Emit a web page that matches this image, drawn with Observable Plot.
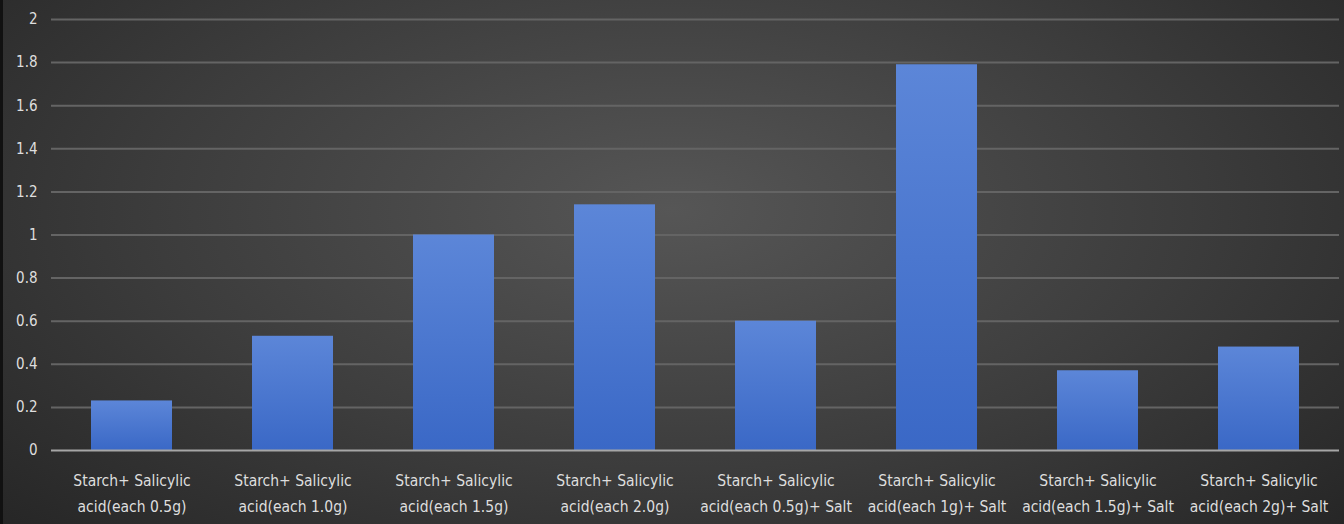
<!DOCTYPE html>
<html>
<head>
<meta charset="utf-8">
<script src="https://cdn.jsdelivr.net/npm/d3@7"></script>
<script src="https://cdn.jsdelivr.net/npm/@observablehq/plot@0.6"></script>
<style>
  html, body { margin: 0; padding: 0; width: 1344px; height: 524px; overflow: hidden; }
  body { background: radial-gradient(ellipse 70% 90% at 50% 40%, #565656 0%, #3c3c3c 55%, #252525 100%); }
  #chart { position: relative; width: 1344px; height: 524px; border-left: 3px solid #111; box-sizing: border-box; }
  svg { display: block; }
</style>
</head>
<body>
<div id="chart"></div>
<script>
const categories = [
  "Starch+ Salicylic\nacid(each 0.5g)",
  "Starch+ Salicylic\nacid(each 1.0g)",
  "Starch+ Salicylic\nacid(each 1.5g)",
  "Starch+ Salicylic\nacid(each 2.0g)",
  "Starch+ Salicylic\nacid(each 0.5g)+ Salt",
  "Starch+ Salicylic\nacid(each 1g)+ Salt",
  "Starch+ Salicylic\nacid(each 1.5g)+ Salt",
  "Starch+ Salicylic\nacid(each 2g)+ Salt"
];
const values = [0.23, 0.53, 1.0, 1.14, 0.6, 1.79, 0.37, 0.48];
const yTicks = [0, 0.2, 0.4, 0.6, 0.8, 1, 1.2, 1.4, 1.6, 1.8, 2];

const data = categories.map((c, i) => ({category: c, value: values[i]}));

const plot = Plot.plot({
  width: 1341,
  height: 524,
  marginTop: 19,
  marginBottom: 74,
  marginLeft: 48,
  marginRight: 5,
  style: {background: "transparent", fontFamily: "'DejaVu Sans Condensed', 'Liberation Sans Narrow', sans-serif", fontSize: "15px", color: "#dedede"},
  x: {domain: categories, paddingInner: 0.5, paddingOuter: 0.25, label: null},
  y: {domain: [0, 2], label: null},
  marks: [
    Plot.gridY(yTicks.filter(d => d > 0), {stroke: "#646464", strokeOpacity: 1, strokeWidth: 2}),
    Plot.barY(data, {x: "category", y: "value", fill: "url(#barGrad)"}),
    Plot.ruleY([0], {stroke: "#a6a6a6", strokeWidth: 2}),
    Plot.axisY({ticks: yTicks, tickSize: 0, tickPadding: 14, label: null, fill: "#dedede", fontSize: 15, tickFormat: d => String(d)}),
    Plot.axisX({tickSize: 0, tickPadding: 17, label: null, fill: "#dedede", fontSize: 15.5, lineHeight: 1.68})
  ]
});

const defs = d3.select(plot).insert("defs", ":first-child");
const g = defs.append("linearGradient").attr("id", "barGrad").attr("x1", 0).attr("y1", 0).attr("x2", 0).attr("y2", 1);
g.append("stop").attr("offset", "0%").attr("stop-color", "#5c86d8");
g.append("stop").attr("offset", "100%").attr("stop-color", "#3a68c6");

document.getElementById("chart").appendChild(plot);
</script>
</body>
</html>
